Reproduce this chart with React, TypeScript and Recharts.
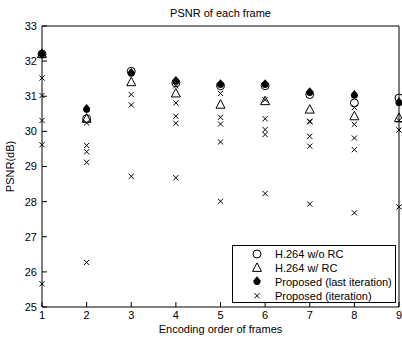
import React from "react";
import { ScatterChart, Scatter, XAxis, YAxis, Legend } from "recharts";

const frames = [1, 2, 3, 4, 5, 6, 7, 8, 9];
const yTicks = [25, 26, 27, 28, 29, 30, 31, 32, 33];

const h264NoRc = [32.2, 30.36, 31.71, 31.38, 31.3, 31.3, 31.05, 30.81, 30.95];
const h264Rc = [32.2, 30.36, 31.4, 31.08, 30.76, 30.86, 30.62, 30.43, 30.38];
const proposedLast = [32.2, 30.62, 31.65, 31.42, 31.33, 31.33, 31.1, 31.02, 30.81];
// PSNR after each intermediate iteration, per frame
const proposedIter = [
  [31.52, 31.02, 30.31, 29.62, 25.66],
  [30.24, 29.6, 29.42, 29.12, 26.27],
  [31.05, 30.75, 28.72],
  [31.3, 30.81, 30.43, 30.23, 28.68],
  [31.08, 30.4, 30.21, 29.7, 28.01],
  [30.9, 30.36, 30.05, 29.91, 28.23],
  [30.29, 30.27, 29.86, 29.58, 27.93],
  [30.68, 30.2, 29.81, 29.48, 27.68],
  [30.31, 30.04, 27.85],
];

const toPoints = (vals: number[]) => frames.map((f, i) => ({ frame: f, psnr: vals[i] }));
const noRcPts = toPoints(h264NoRc);
const rcPts = toPoints(h264Rc);
const lastPts = toPoints(proposedLast);
const iterPts = frames.flatMap((f, i) => proposedIter[i].map((v) => ({ frame: f, psnr: v })));

const FONT = "'Liberation Sans', Arial, Helvetica, sans-serif";
const tickFont = { fontSize: 11, fontFamily: FONT, fill: "#000" };
const noLabel = () => "";

const CircleMark = ({ cx, cy }: any) => (
  <circle cx={cx} cy={cy} r={4} fill="none" stroke="#000" strokeWidth={1} />
);
const TriangleMark = ({ cx, cy }: any) => (
  <polygon
    points={`${cx},${cy - 5} ${cx + 4.5},${cy + 3.5} ${cx - 4.5},${cy + 3.5}`}
    fill="none"
    stroke="#000"
    strokeWidth={1}
  />
);
const DiamondMark = ({ cx, cy }: any) => (
  <path
    d={`M${cx},${cy - 5.5} L${cx + 3.4},${cy - 1.5} A3.6,3.6 0 1,1 ${cx - 3.4},${cy - 1.5} Z`}
    fill="#000"
  />
);
const CrossMark = ({ cx, cy }: any) => (
  <path
    d={`M${cx - 2.6},${cy - 2.6} L${cx + 2.6},${cy + 2.6} M${cx - 2.6},${cy + 2.6} L${cx + 2.6},${cy - 2.6}`}
    stroke="#000"
    strokeWidth={1}
  />
);

const legendItems = [
  { label: "H.264 w/o RC", Mark: CircleMark },
  { label: "H.264 w/ RC", Mark: TriangleMark },
  { label: "Proposed (last iteration)", Mark: DiamondMark },
  { label: "Proposed (iteration)", Mark: CrossMark },
];

const LegendBox = () => (
  <svg width={164} height={58} style={{ display: "block" }}>
    <rect x={0.5} y={0.5} width={163} height={57} fill="#fff" stroke="#000" />
    {legendItems.map((it, i) => {
      const cy = 9 + i * 13.9;
      return (
        <g key={it.label}>
          <it.Mark cx={25} cy={cy} />
          <text x={43} y={cy + 4} fontSize={11} fontFamily={FONT} fill="#000">
            {it.label}
          </text>
        </g>
      );
    })}
  </svg>
);

// negative tickSize turns the tick marks inward (boxed MATLAB-style axes)
export default function App() {
  return (
    <div style={{ position: "absolute", left: 0, top: 0, background: "#fff" }}>
      <ScatterChart width={402} height={339} margin={{ top: 25, right: 2, bottom: 0, left: 0 }}>
        <XAxis
          dataKey="frame"
          type="number"
          domain={[1, 9]}
          ticks={frames}
          height={32}
          tickSize={-5}
          tickMargin={9}
          tickLine={{ stroke: "#000" }}
          tick={tickFont}
          axisLine={{ stroke: "#000" }}
          label={{ value: "Encoding order of frames", position: "insideBottom", offset: 6, ...tickFont }}
        />
        <XAxis
          xAxisId="top"
          orientation="top"
          type="number"
          domain={[1, 9]}
          ticks={frames}
          height={1}
          tickSize={-5}
          tickMargin={0}
          tickLine={{ stroke: "#000" }}
          tickFormatter={noLabel}
          axisLine={{ stroke: "#000" }}
          label={{ value: "PSNR of each frame", position: "top", offset: 8, ...tickFont }}
        />
        <YAxis
          dataKey="psnr"
          type="number"
          domain={[25, 33]}
          ticks={yTicks}
          width={42}
          tickSize={-5}
          tickMargin={10}
          tickLine={{ stroke: "#000" }}
          tick={tickFont}
          axisLine={{ stroke: "#000" }}
          label={{ value: "PSNR(dB)", angle: -90, position: "insideLeft", offset: 10, ...tickFont, style: { textAnchor: "middle" } }}
        />
        <YAxis
          yAxisId="right"
          orientation="right"
          type="number"
          domain={[25, 33]}
          ticks={yTicks}
          width={1}
          tickSize={-5}
          tickMargin={0}
          tickLine={{ stroke: "#000" }}
          tickFormatter={noLabel}
          axisLine={{ stroke: "#000" }}
        />
        <Scatter name="Proposed (iteration)" data={iterPts} shape={<CrossMark />} isAnimationActive={false} />
        <Scatter name="H.264 w/ RC" data={rcPts} shape={<TriangleMark />} isAnimationActive={false} />
        <Scatter name="H.264 w/o RC" data={noRcPts} shape={<CircleMark />} isAnimationActive={false} />
        <Scatter name="Proposed (last iteration)" data={lastPts} shape={<DiamondMark />} isAnimationActive={false} />
        <Legend
          layout="horizontal"
          verticalAlign="middle"
          align="center"
          wrapperStyle={{ left: 232, top: 245, width: 164, height: 58 }}
          content={<LegendBox />}
        />
      </ScatterChart>
    </div>
  );
}
